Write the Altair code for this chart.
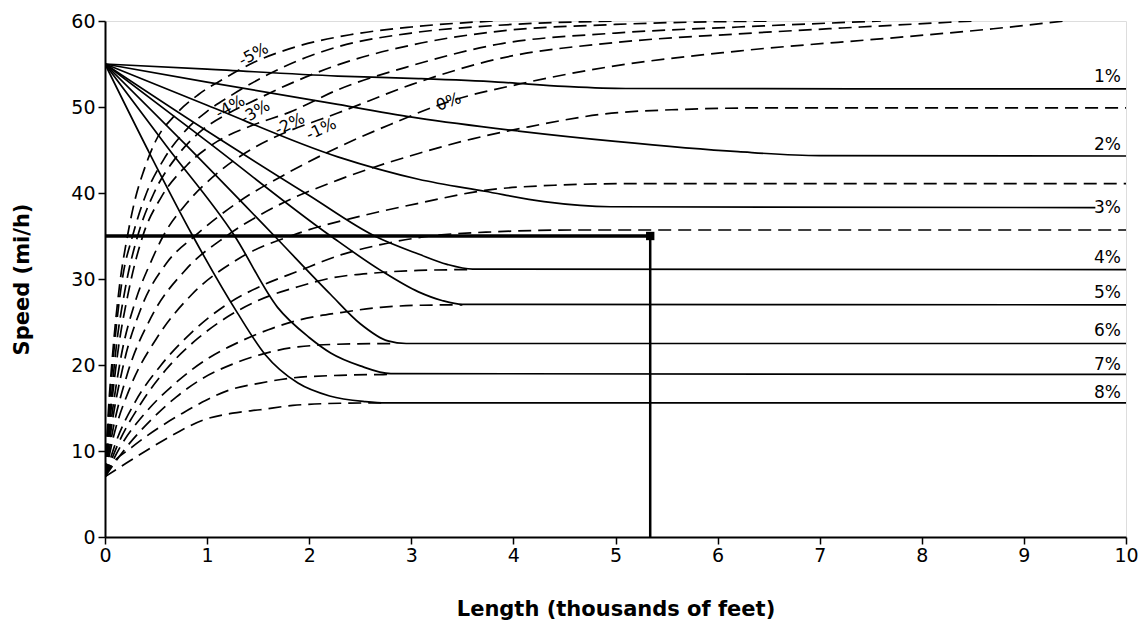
import altair as alt
import pandas as pd

# ---- solid curves: speed falling from 55 mi/h on upgrades (grade, points (length kft, speed mi/h))
dec_1 = [(0, 55), (1, 54.4), (2.28, 53.6), (3.07, 53.3), (3.85, 52.9), (4.5, 52.4), (5.1, 52.15), (10, 52.1)]
dec_2 = [(0, 55), (1, 52.9), (2.28, 50.3), (3.07, 48.7), (4.05, 47.2), (5.0, 46.0), (6.2, 44.8), (7.0, 44.35), (10, 44.3)]
dec_3 = [(0, 55), (1, 50.2), (2.28, 44.2), (3.07, 41.6), (3.72, 40.2), (4.3, 39.0), (4.95, 38.4), (9.7, 38.3)]
dec_4 = [(0, 55), (1, 47.2), (2, 39.7), (2.64, 35), (3.07, 32.9), (3.35, 31.7), (3.6, 31.15), (10, 31.1)]
dec_5 = [(0, 55), (1, 46), (2.21, 35), (2.7, 31), (3.07, 28.5), (3.3, 27.5), (3.5, 27.05), (10, 27)]
dec_6 = [(0, 55), (0.8, 45.5), (1.66, 35), (2.21, 28.2), (2.5, 24.8), (2.77, 22.8), (2.95, 22.5), (10, 22.5)]
dec_7 = [(0, 55), (0.6, 45.5), (1.27, 35), (1.69, 26.7), (2.0, 23.2), (2.21, 21.4), (2.5, 19.9), (2.8, 19.0), (10, 18.9)]
dec_8 = [(0, 55), (0.42, 45), (0.86, 35), (1.3, 26), (1.57, 21.2), (1.89, 17.9), (2.2, 16.4), (2.55, 15.75), (2.75, 15.6), (10, 15.6)]

# ---- dashed curves: speed rising from a low entry speed
acc_m5 = [(0, 7), (0.03, 14), (0.08, 22), (0.14, 29), (0.22, 35), (0.3, 39.5), (0.38, 42.6), (0.49, 45.9), (0.69, 49.1),
          (0.91, 51.4), (1.18, 53.4), (1.46, 55.2), (1.9, 57.1), (2.4, 58.4), (3.0, 59.3), (3.8, 60)]
acc_m4 = [(0, 7), (0.03, 13), (0.09, 22), (0.17, 30), (0.27, 35), (0.4, 39.8), (0.57, 43.8), (0.8, 47.4), (1.0, 49.5),
          (1.23, 51.3), (1.6, 53.8), (2.0, 55.9), (2.28, 57.0), (3.0, 58.6), (3.85, 59.5), (5.0, 60)]
acc_m3 = [(0, 7), (0.04, 13), (0.1, 21), (0.2, 29), (0.32, 35), (0.48, 40), (0.7, 44.2), (0.95, 47.3), (1.2, 49.2),
          (1.47, 50.8), (1.85, 52.9), (2.28, 54.9), (3.0, 57.2), (3.85, 58.8), (5.0, 59.6), (6.5, 60)]
acc_m2 = [(0, 7), (0.04, 12.5), (0.12, 21), (0.23, 28.5), (0.37, 35), (0.55, 39.5), (0.8, 43.2), (1.1, 46.0), (1.45, 47.9),
          (1.81, 49.4), (2.28, 52.0), (3.0, 54.8), (3.85, 57.3), (5.0, 58.6), (6.2, 59.3), (7.6, 60)]
acc_m1 = [(0, 7), (0.05, 12.5), (0.15, 20.5), (0.3, 27.5), (0.45, 32), (0.57, 35), (0.8, 38.8), (1.1, 42.3), (1.45, 45.2),
          (1.8, 47.2), (2.12, 48.6), (2.28, 49.3), (3.0, 52.6), (3.85, 55.6), (5.0, 57.5), (6.2, 58.5), (7.4, 59.3), (8.5, 60)]
acc_0 = [(0, 7), (0.06, 12.5), (0.18, 20), (0.35, 26.5), (0.6, 31.8), (0.88, 35), (1.3, 38.9), (1.8, 42.4), (2.28, 45.3),
         (2.8, 48), (3.36, 50.6), (4.07, 52.7), (4.9, 54.6), (6.2, 56.5), (7.77, 58.1), (8.7, 59.1), (9.4, 60)]
acc_1 = [(0, 7), (0.07, 12), (0.22, 19), (0.45, 25.5), (0.8, 31.2), (1.19, 35), (1.7, 38.6), (2.28, 41.5), (3.07, 44.6),
         (3.6, 46.3), (4.11, 47.6), (4.9, 49.2), (5.6, 49.7), (6.5, 49.9), (10, 49.9)]
acc_2 = [(0, 7), (0.08, 11.5), (0.25, 17.5), (0.5, 23), (0.85, 28.2), (1.3, 32.3), (1.89, 35.3), (2.5, 37.3), (3.07, 38.8),
         (3.72, 40.3), (4.4, 40.9), (5.2, 41.1), (10, 41.1)]
acc_3 = [(0, 7), (0.1, 10.8), (0.3, 15.8), (0.55, 20), (0.85, 23.8), (1.2, 27.1), (1.55, 29.3), (1.89, 30.9), (2.31, 32.8),
         (2.7, 34.0), (3.19, 35.0), (3.85, 35.5), (4.6, 35.7), (10, 35.7)]
acc_4 = [(0, 7), (0.12, 10.6), (0.35, 15.5), (0.6, 19.5), (0.9, 23), (1.2, 25.6), (1.5, 27.5), (1.89, 29.1), (2.21, 30.1),
         (2.64, 30.7), (3.07, 31.0), (3.6, 31.1)]
acc_5 = [(0, 7), (0.15, 10.5), (0.4, 14.5), (0.7, 18), (1.0, 20.7), (1.3, 22.6), (1.6, 24.1), (1.89, 25.2), (2.31, 26.1),
         (2.7, 26.7), (3.1, 26.95), (3.5, 27)]
acc_6 = [(0, 7), (0.2, 10.3), (0.45, 13.6), (0.7, 16.3), (0.95, 18.4), (1.25, 20.1), (1.55, 21.3), (1.89, 22.1), (2.4, 22.45),
         (2.85, 22.5)]
acc_7 = [(0, 7), (0.05, 8.1), (0.27, 10.5), (0.54, 12.8), (0.76, 14.4), (0.99, 15.9), (1.22, 17.1), (1.52, 17.9), (1.84, 18.5),
         (2.3, 18.8), (2.8, 18.9)]
acc_8 = [(0, 7), (0.21, 8.6), (0.44, 10.3), (0.70, 12.1), (0.96, 13.6), (1.25, 14.4), (1.52, 14.8), (1.84, 15.3), (2.3, 15.55),
         (2.75, 15.6)]

# ---- labels
right_labels = ["1%", "2%", "3%", "4%", "5%", "6%", "7%", "8%"]
right_label_v = [53.5, 45.6, 38.2, 32.5, 28.4, 23.9, 20.0, 16.8]
left_labels = ["-5%", "-4%", "-3%", "-2%", "-1%", "0%"]
left_label_x = [1.456, 1.227, 1.472, 1.809, 2.118, 3.366]
left_label_v = [56.1, 50.0, 49.4, 48.0, 47.4, 50.6]
left_label_angle = [332, 330, 330, 334, 335, 340]

# ---- example reading
design_speed = [35]
design_length = [5.34]

x_ticks = [0, 1, 2, 3, 4, 5, 6, 7, 8, 9, 10]
y_ticks = [0, 10, 20, 30, 40, 50, 60]

dec = {"1": dec_1, "2": dec_2, "3": dec_3, "4": dec_4, "5": dec_5, "6": dec_6, "7": dec_7, "8": dec_8}
acc = {"-5": acc_m5, "-4": acc_m4, "-3": acc_m3, "-2": acc_m2, "-1": acc_m1, "0": acc_0, "1": acc_1, "2": acc_2,
       "3": acc_3, "4": acc_4, "5": acc_5, "6": acc_6, "7": acc_7, "8": acc_8}

dec_df = pd.DataFrame([{"curve": k, "x": p[0], "v": p[1]} for k, pts in dec.items() for p in pts])
acc_df = pd.DataFrame([{"curve": k, "x": p[0], "v": p[1]} for k, pts in acc.items() for p in pts])

FONT = "DejaVu Sans"
xscale = alt.Scale(domain=[0, 10], nice=False, zero=False)
yscale = alt.Scale(domain=[0, 60], nice=False)

x_axis = alt.Axis(values=x_ticks, format="d", title="Length (thousands of feet)", grid=False, tickSize=7, tickWidth=1.5,
                  tickColor="black", domainColor="black", domainWidth=2, labelFont=FONT, labelFontSize=19,
                  labelColor="black", labelPadding=2, labelFlush=False, titleFont=FONT, titleFontSize=21,
                  titleFontWeight="bold", titleColor="black", titleY=72, titleBaseline="middle")
y_axis = alt.Axis(values=y_ticks, format="d", title="Speed (mi/h)", grid=False, tickSize=7, tickWidth=1.5,
                  tickColor="black", domainColor="black", domainWidth=2, labelFont=FONT, labelFontSize=19,
                  labelColor="black", labelPadding=3, labelFlush=False, titleFont=FONT, titleFontSize=21,
                  titleFontWeight="bold", titleColor="black", titleX=-83, titleBaseline="middle")

X = alt.X("x:Q", scale=xscale, axis=x_axis)
Y = alt.Y("v:Q", scale=yscale, axis=y_axis)

dashed = alt.Chart(acc_df).mark_line(color="black", strokeWidth=1.7, strokeDash=[13, 7],
                                     interpolate="monotone", clip=True).encode(x=X, y=Y, detail="curve:N")
solid = alt.Chart(dec_df).mark_line(color="black", strokeWidth=1.7,
                                    interpolate="monotone", clip=True).encode(x=X, y=Y, detail="curve:N")

design_df = pd.DataFrame({"x0": [0], "x1": design_length, "v": design_speed, "v0": [0]})
hrule = alt.Chart(design_df).mark_rule(color="black", strokeWidth=3.5).encode(
    x=alt.X("x0:Q", scale=xscale), x2="x1:Q", y=alt.Y("v:Q", scale=yscale))
vrule = alt.Chart(design_df).mark_rule(color="black", strokeWidth=2.5).encode(
    x=alt.X("x1:Q", scale=xscale), y=alt.Y("v0:Q", scale=yscale), y2="v:Q")
marker = alt.Chart(design_df).mark_square(color="black", opacity=1, size=70, filled=True).encode(
    x=alt.X("x1:Q", scale=xscale), y=alt.Y("v:Q", scale=yscale))

rl_df = pd.DataFrame({"t": right_labels, "v": right_label_v, "x": [9.95] * len(right_labels)})
rtext = alt.Chart(rl_df).mark_text(align="right", baseline="middle", font=FONT, fontSize=17, color="black").encode(
    x=alt.X("x:Q", scale=xscale), y=alt.Y("v:Q", scale=yscale), text="t:N")

ll_layers = []
for t, lx, lv, la in zip(left_labels, left_label_x, left_label_v, left_label_angle):
    d = pd.DataFrame({"t": [t], "x": [lx], "v": [lv]})
    ll_layers.append(alt.Chart(d).mark_text(align="center", baseline="middle", font=FONT, fontSize=16,
                                            color="black", angle=la).encode(
        x=alt.X("x:Q", scale=xscale), y=alt.Y("v:Q", scale=yscale), text="t:N"))

chart = alt.layer(dashed, solid, hrule, vrule, marker, rtext, *ll_layers).properties(
    width=1021, height=516,
    autosize=alt.AutoSizeParams(type="none"),
    padding={"left": 97, "top": 13, "right": 12, "bottom": 86},
).configure_view(stroke="#666", strokeWidth=1.5).configure(background="white")

chart.save("out.html", embed_options={"renderer": "svg", "actions": False})
